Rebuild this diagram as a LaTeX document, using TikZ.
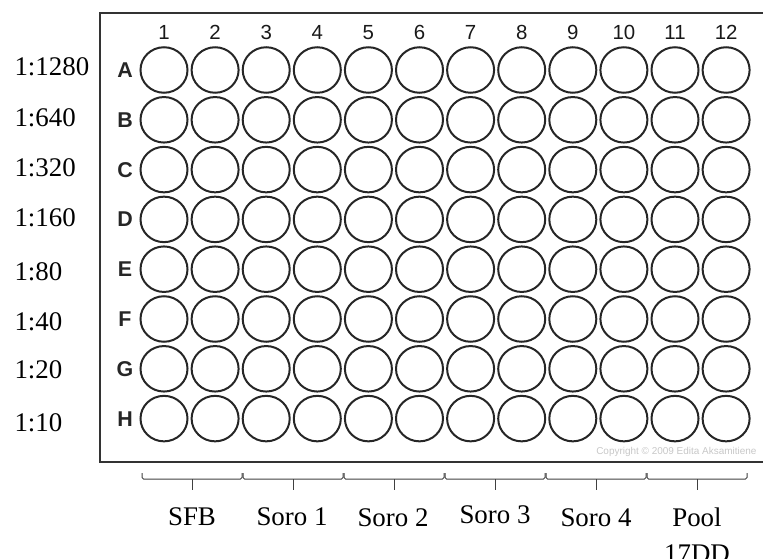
\documentclass[tikz,border=0pt]{standalone}
\usepackage{fontspec}
\setmainfont{Liberation Serif}
\setsansfont{Liberation Sans}
\usetikzlibrary{shapes.geometric}

\begin{document}
\begin{tikzpicture}[x=1bp,y=-1bp,
 well/.style={ellipse,draw=black!85,line width=2bp,minimum width=47bp,minimum height=45.5bp,inner sep=0pt},
 colnum/.style={anchor=base,font=\sffamily\fontsize{20.5}{22}\selectfont,text=black!90},
 rowlet/.style={anchor=base,font=\sffamily\bfseries\fontsize{21.5}{22}\selectfont,text=black!85},
 dilut/.style={anchor=west,font=\fontsize{27}{32}\selectfont},
 grp/.style={font=\fontsize{27}{36}\selectfont,align=center},
 brace/.style={draw=black!75,line width=1bp,rounded corners=1.5bp}]
 \useasboundingbox (0,0) rectangle (763,559);
 \begin{scope}
 \clip (0,0) rectangle (763,559);
 \draw[draw=black!80,line width=2bp] (99.5,13) rectangle (775,462);
 \end{scope}
 % wells and column numbers
 \foreach \c in {1,...,12}{
  \node[colnum] (n\c) at ({164+51.1*(\c-1)},39.5) {\c};
  \foreach \r/\l in {1/A,2/B,3/C,4/D,5/E,6/F,7/G,8/H}
   \node[well] (w\l\c) at ({164+51.1*(\c-1)},{70+49.8*(\r-1)}) {};
 }
 % row letters
 \foreach \r/\l in {1/A,2/B,3/C,4/D,5/E,6/F,7/G,8/H}
  \node[rowlet] (r\l) at (125,{77.5+49.8*(\r-1)}) {\l};
 % dilutions
 \foreach \y/\d in {67/1280,118/640,168/320,218/160,272/80,322/40,370/20,423/10}
  \node[dilut] (d\d) at (11,\y) {1:\d};
 \node[anchor=east,text=black!22,font=\sffamily\fontsize{10}{12}\selectfont] (copy) at (760,452) {Copyright © 2009 Edita Aksamitiene};
 % groups under the plate
 \foreach \k in {0,...,5}{
  \draw[brace] ({142+101*\k},473) -- ({142+101*\k},479) -- ({242+101*\k},479) -- ({242+101*\k},473);
  \draw[brace] ({192+101*\k},479) -- ({192+101*\k},490);
 }
 \node[grp] (sfb) at (192,517) {SFB};
 \node[grp] (s1) at (292,517) {Soro 1};
 \node[grp] (s2) at (393,518) {Soro 2};
 \node[grp] (s3) at (495,515) {Soro 3};
 \node[grp] (s4) at (596,518) {Soro 4};
 \node[grp] (pool) at (697,535) {Pool\\17DD};
\end{tikzpicture}
\end{document}
